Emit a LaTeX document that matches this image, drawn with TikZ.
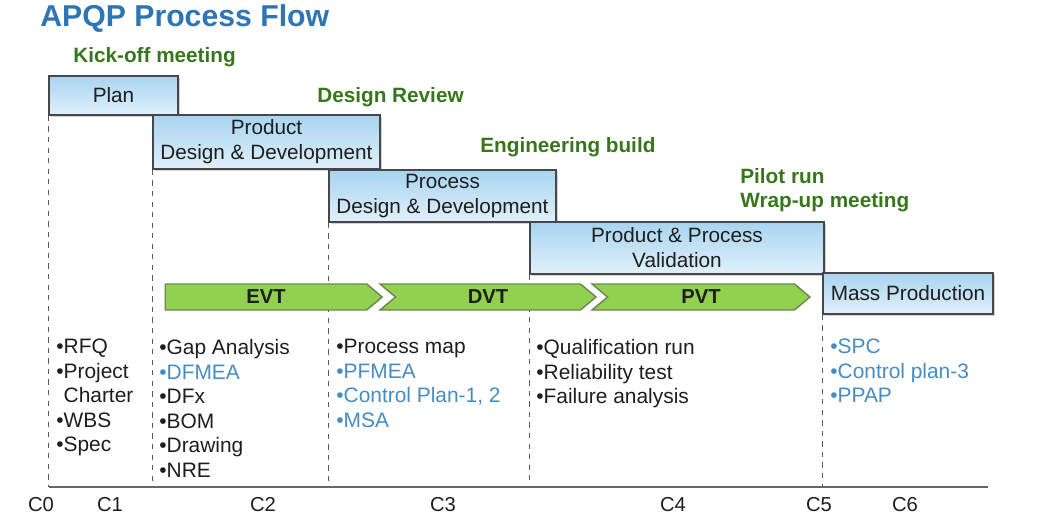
\documentclass[tikz,border=0pt]{standalone}
\usepackage{fontspec}
\setmainfont{Liberation Sans}
\usepackage{xcolor}
\usetikzlibrary{shapes.symbols,shadows}
\definecolor{titleblue}{RGB}{46,117,182}
\definecolor{gategreen}{RGB}{146,208,80}
\definecolor{gateedge}{RGB}{105,135,80}
\definecolor{milegreen}{RGB}{56,118,29}
\definecolor{boxtop}{RGB}{168,212,240}
\definecolor{boxbot}{RGB}{224,240,251}
\definecolor{boxedge}{RGB}{70,70,75}
\definecolor{itemblue}{RGB}{70,140,195}
\definecolor{inkgray}{RGB}{30,30,30}
\newcommand{\blueitem}[1]{\textcolor{itemblue}{#1}}

\tikzset{
  phase/.style={draw=boxedge, line width=1pt, top color=boxtop, bottom color=boxbot,
    text=inkgray, align=center, inner sep=0pt, font=\fontsize{11.8}{14.2}\selectfont,
    drop shadow={shadow xshift=1pt, shadow yshift=-1pt, opacity=0.35}},
  gate/.style={signal, signal to=east, signal pointer angle=80, draw=gateedge,
    fill=gategreen, line width=0.8pt, inner sep=0pt, minimum height=0.52cm,
    text=inkgray, font=\fontsize{11.5}{13}\selectfont\bfseries},
  milestone/.style={text=milegreen, font=\fontsize{11.8}{13.8}\selectfont\bfseries,
    anchor=west, inner sep=0pt, align=left},
  itemlist/.style={anchor=north west, inner sep=0pt, align=left, text=inkgray,
    font=\fontsize{11.9}{13.95}\selectfont},
  cmark/.style={font=\fontsize{11.5}{13}\selectfont, inner sep=0pt, text=inkgray},
  guide/.style={dashed, black!65, line width=0.6pt},
  axisline/.style={black!60, line width=1.2pt}
}

\begin{document}
\begin{tikzpicture}[x=0.02cm, y=-0.02cm]
    \useasboundingbox (0,0) rectangle (1048,524);

    % Title
    \node[anchor=west, inner sep=0pt, text=titleblue, font=\fontsize{17.2}{20}\selectfont\bfseries] (title) at (40,19) {APQP Process Flow};

    % Milestones
    \node[milestone] (kickoff) at (73,57) {Kick-off meeting};
    \node[milestone] (review) at (317,97) {Design Review};
    \node[milestone] (build) at (480,147) {Engineering build};
    \node[milestone] (pilot) at (740,190) {Pilot run\\Wrap-up meeting};

    % Phases
    \node[phase, minimum width=2.58cm, minimum height=0.78cm] (plan) at (113.5,95.5) {Plan};
    \node[phase, minimum width=4.54cm, minimum height=1.08cm] (pdd) at (266.5,142) {Product\\Design \& Development};
    \node[phase, minimum width=4.54cm, minimum height=1.04cm] (prdd) at (442.5,196) {Process\\Design \& Development};
    \node[phase, minimum width=5.88cm, minimum height=1.04cm] (ppv) at (677,248) {Product \& Process\\Validation};
    \node[phase, minimum width=3.4cm, minimum height=0.82cm] (mass) at (908,293.5) {Mass Production};

    % Time axis and guides
    \coordinate (ax0) at (49,487);
    \coordinate (ax1) at (988,487);
    \foreach \b in {plan,pdd,prdd,ppv,mass} {
        \draw[guide] (\b.south west) -- (\b.south west |- ax0);
    }
    \draw[axisline] (ax0) -- (ax1);

    % Build stages
    \node[gate, minimum width=4.34cm] (evt) at (266,297) {EVT};
    \node[gate, signal from=west, minimum width=4.32cm] (dvt) at (488,297) {DVT};
    \node[gate, signal from=west, minimum width=4.36cm] (pvt) at (701,297) {PVT};

    % Deliverables
    \node[itemlist] (plandel) at (56,339) {•RFQ\\•Project\\\phantom{•}Charter\\•WBS\\•Spec};
    \node[itemlist] (pdddel) at (159,339) {•Gap Analysis\\\blueitem{•DFMEA}\\•DFx\\•BOM\\•Drawing\\•NRE};
    \node[itemlist] (prdddel) at (336,339) {•Process map\\\blueitem{•PFMEA}\\\blueitem{•Control Plan-1, 2}\\\blueitem{•MSA}};
    \node[itemlist] (ppvdel) at (536,339) {•Qualification run\\•Reliability test\\•Failure analysis};
    \node[itemlist] (massdel) at (830,339) {\blueitem{•SPC}\\\blueitem{•Control plan-3}\\\blueitem{•PPAP}};

    % Checkpoints
    \foreach \n/\x in {0/41,1/110,2/263,3/443,4/673,5/819,6/905} {
        \node[cmark] (c\n) at (\x,505) {C\n};
    }
\end{tikzpicture}
\end{document}
